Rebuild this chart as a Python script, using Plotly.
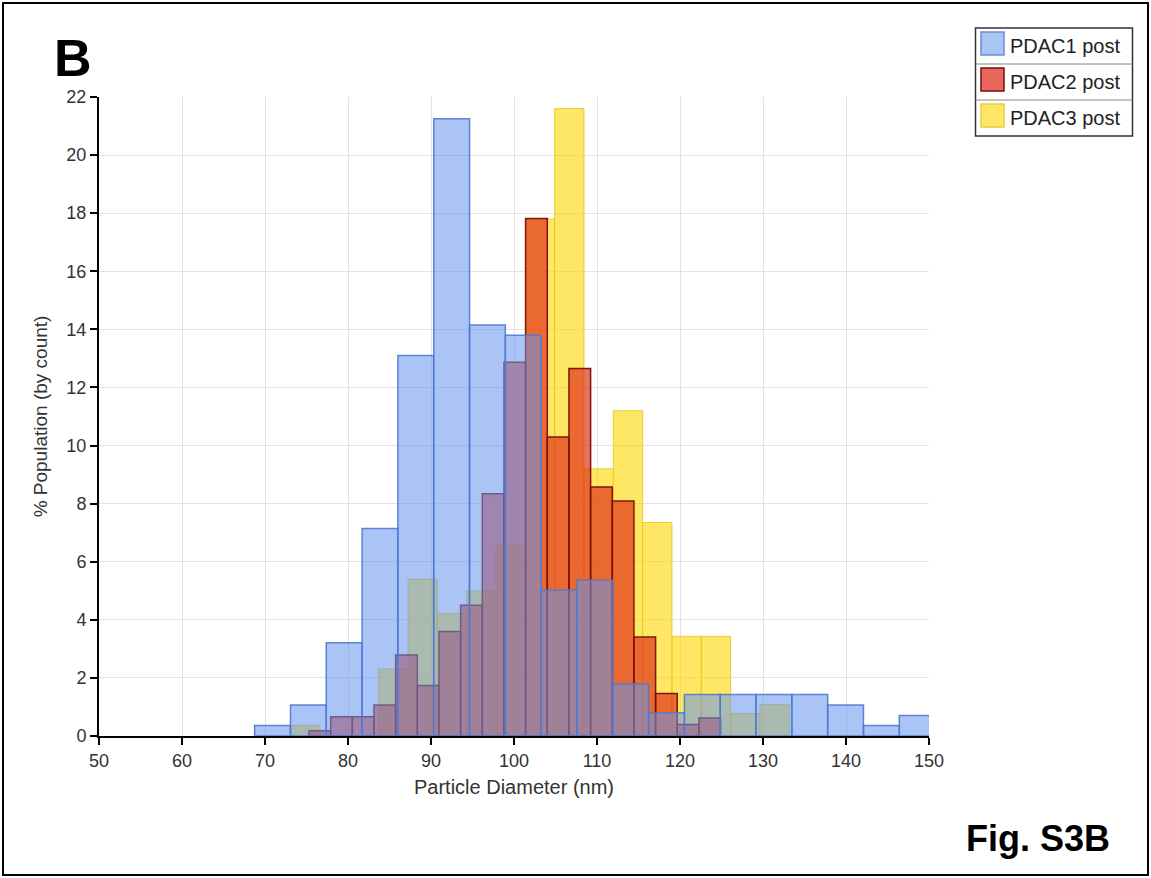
import plotly.graph_objects as go

# ---- size distributions: left bin edge (nm) and % population (by count) ----
pdac1_edges = [68.75, 73.07, 77.38, 81.70, 86.01, 90.33, 94.64, 98.96, 103.27, 107.59,
               111.90, 116.22, 120.53, 124.85, 129.16, 133.48, 137.79, 142.11, 146.42]
pdac1_pct = [0.36, 1.07, 3.21, 7.14, 13.10, 21.25, 14.15, 13.80, 5.03, 5.36,
             1.79, 0.80, 1.43, 1.43, 1.43, 1.43, 1.07, 0.36, 0.71]
pdac1_bin_width = 4.315

pdac2_edges = [75.30, 77.91, 80.52, 83.13, 85.74, 88.35, 90.96, 93.57, 96.18, 98.79,
               101.40, 104.01, 106.62, 109.23, 111.84, 114.45, 117.06, 119.67, 122.28]
pdac2_pct = [0.18, 0.66, 0.66, 1.07, 2.79, 1.74, 3.60, 4.50, 8.34, 12.87,
             17.82, 10.29, 12.65, 8.57, 8.09, 3.41, 1.46, 0.40, 0.62]
pdac2_bin_width = 2.61

pdac3_edges = [73.10, 76.63, 80.17, 83.70, 87.23, 90.77, 94.30, 97.83, 101.37, 104.90,
               108.43, 111.97, 115.50, 119.03, 122.57, 126.10, 129.63]
pdac3_pct = [0.37, 0.0, 0.0, 2.31, 5.40, 4.22, 5.00, 6.57, 17.80, 21.60,
             9.20, 11.20, 7.35, 3.43, 3.43, 0.77, 1.09]
pdac3_bin_width = 3.53

series_names = ["PDAC1 post", "PDAC2 post", "PDAC3 post"]
x_ticks = [50, 60, 70, 80, 90, 100, 110, 120, 130, 140, 150]
y_ticks = [0, 2, 4, 6, 8, 10, 12, 14, 16, 18, 20, 22]

# ---- styling ----
W, H = 1151, 878
L, R, T, B = 99, 929, 97, 736          # plot area in pixels
FONT = "Arial, Liberation Sans, sans-serif"
TXT = "#333333"

fills = ["rgba(100,149,237,0.55)", "rgba(222,40,20,0.66)", "rgba(255,215,0,0.60)"]
edges_col = ["rgba(80,120,210,0.9)", "rgba(120,15,5,0.95)", "rgba(235,200,40,0.9)"]
swatch_fill = ["rgb(168,197,244)", "rgb(232,104,96)", "rgb(255,231,102)"]
swatch_line = ["rgb(110,140,210)", "rgb(120,15,5)", "rgb(235,205,60)"]

fig = go.Figure()

# drawing order: PDAC3 at the back, PDAC1 in front
for edges, pct, width, i in [
    (pdac3_edges, pdac3_pct, pdac3_bin_width, 2),
    (pdac2_edges, pdac2_pct, pdac2_bin_width, 1),
    (pdac1_edges, pdac1_pct, pdac1_bin_width, 0),
]:
    fig.add_trace(go.Bar(
        x=edges, y=pct, width=width, offset=0, name=series_names[i],
        marker=dict(color=fills[i], line=dict(color=edges_col[i], width=1.5 if i != 2 else 1)),
        showlegend=False,
    ))


def px_x(p):
    return (p - L) / (R - L)


def px_y(p):
    return (B - p) / (B - T)


shapes = []
annotations = []

# outer frame around the whole figure
shapes.append(dict(type="rect", xref="paper", yref="paper",
                   x0=px_x(3), x1=px_x(1148), y0=px_y(875), y1=px_y(3),
                   line=dict(color="black", width=2), fillcolor="rgba(0,0,0,0)", layer="above"))

# legend box with separators
lx0, lx1, ly0 = 975.5, 1132.5, 28
row_h = 36
shapes.append(dict(type="rect", xref="paper", yref="paper",
                   x0=px_x(lx0), x1=px_x(lx1), y0=px_y(ly0 + 3 * row_h), y1=px_y(ly0),
                   line=dict(color="#333333", width=1.5), fillcolor="white", layer="above"))
for k in range(3):
    top = ly0 + k * row_h
    if k > 0:
        shapes.append(dict(type="line", xref="paper", yref="paper",
                           x0=px_x(lx0), x1=px_x(lx1), y0=px_y(top), y1=px_y(top),
                           line=dict(color="#888888", width=1), layer="above"))
    shapes.append(dict(type="rect", xref="paper", yref="paper",
                       x0=px_x(981), x1=px_x(1004), y0=px_y(top + 27), y1=px_y(top + 4),
                       line=dict(color=swatch_line[k], width=1.5), fillcolor=swatch_fill[k], layer="above"))
    annotations.append(dict(xref="paper", yref="paper", x=px_x(1008), y=px_y(top + row_h / 2),
                            text=series_names[k], showarrow=False, xanchor="left", yanchor="middle",
                            font=dict(family=FONT, size=20, color="#222222")))

# panel letter and figure label
annotations.append(dict(xref="paper", yref="paper", x=px_x(73), y=px_y(58),
                        text="<b>B</b>", showarrow=False, xanchor="center", yanchor="middle",
                        font=dict(family=FONT, size=52, color="black")))
annotations.append(dict(xref="paper", yref="paper", x=px_x(1038), y=px_y(839),
                        text="<b>Fig. S3B</b>", showarrow=False, xanchor="center", yanchor="middle",
                        font=dict(family=FONT, size=36, color="black")))

fig.update_layout(
    width=W, height=H,
    margin=dict(l=L, r=W - R, t=T, b=H - B, pad=0),
    paper_bgcolor="white", plot_bgcolor="white",
    barmode="overlay",
    font=dict(family=FONT, size=18, color=TXT),
    shapes=shapes, annotations=annotations,
    xaxis=dict(
        range=[50, 150], tickvals=x_ticks, ticktext=[str(v) for v in x_ticks],
        showline=True, linecolor="black", linewidth=2,
        ticks="outside", ticklen=7, tickwidth=2, tickcolor="black",
        showgrid=True, gridcolor="#e3e3e3", gridwidth=1, zeroline=False,
        tickfont=dict(size=18, color=TXT),
        title=dict(text="Particle Diameter (nm)", standoff=10, font=dict(size=20, color=TXT)),
    ),
    yaxis=dict(
        range=[0, 22], tickvals=y_ticks, ticktext=[str(v) for v in y_ticks],
        showline=True, linecolor="black", linewidth=2,
        ticks="outside", ticklen=7, tickwidth=2, tickcolor="black",
        showgrid=True, gridcolor="#e3e3e3", gridwidth=1, zeroline=False,
        tickfont=dict(size=18, color=TXT),
        title=dict(text="% Population (by count)", standoff=14, font=dict(size=19, color=TXT)),
    ),
)

fig.write_html("out.html")
